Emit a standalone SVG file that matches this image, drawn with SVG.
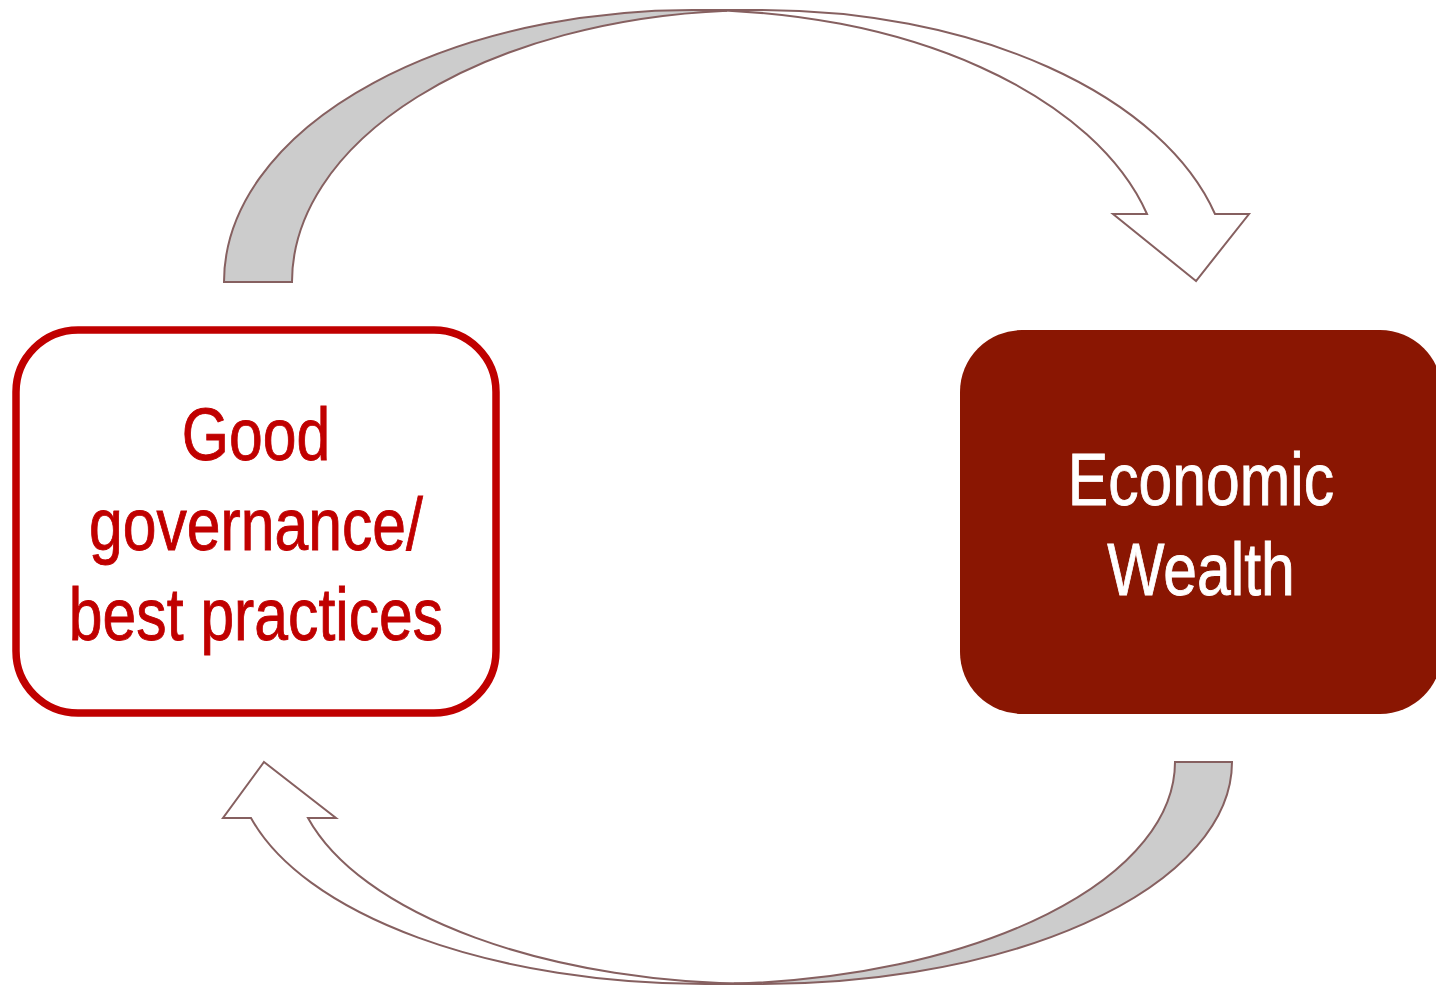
<svg xmlns="http://www.w3.org/2000/svg" width="1436" height="986" viewBox="0 0 1436 986">
  <style>
    .arrow-back { fill: #cccccc; stroke: #866060; stroke-width: 2; stroke-linejoin: miter; }
    .arrow-front { fill: #ffffff; stroke: #866060; stroke-width: 2; stroke-linejoin: miter; }
    .label { font-family: "Liberation Sans", Arial, sans-serif; font-size: 74px; text-anchor: middle; stroke-width: 0.9; }
  </style>
  <rect width="1436" height="986" fill="#ffffff"/>

  <!-- curved connectors -->
  <g id="connectors">
    <!-- top: governance -> wealth -->
    <g id="arrow-top">
      <path class="arrow-back" d="M224,282 A469,272 0 0 1 727,10.7 A469,272 0 0 0 292,282 Z"/>
      <path class="arrow-front" d="M1196,281 L1113,214 L1147,214 A469,272 0 0 0 693,10 L761,10 A469,272 0 0 1 1215,214 L1249,214 Z"/>
    </g>
    <!-- bottom: wealth -> governance -->
    <g id="arrow-bottom">
      <path class="arrow-back" d="M1232,762 A469.7,222 0 0 1 733.8,983.6 A469.7,222 0 0 0 1175,762 Z"/>
      <path class="arrow-front" d="M264,762 L336,818 L308,818 A469.7,222 0 0 0 762.3,984 L705.3,984 A469.7,222 0 0 1 251,818 L223,818 Z"/>
    </g>
  </g>

  <!-- left node -->
  <g id="node-governance">
    <rect x="16" y="330" width="480" height="383" rx="62" ry="62" fill="#ffffff" stroke="#c00000" stroke-width="7.5"/>
    <g transform="translate(256,0) scale(0.82,1)" class="label" fill="#c00000" stroke="#c00000">
      <text x="0" y="460">Good</text>
      <text x="0" y="550">governance/</text>
      <text x="0" y="640">best practices</text>
    </g>
  </g>

  <!-- right node -->
  <g id="node-wealth">
    <rect x="960" y="330" width="482" height="384" rx="62" ry="62" fill="#8a1602"/>
    <g transform="translate(1201,0) scale(0.82,1)" class="label" fill="#ffffff" stroke="#ffffff">
      <text x="0" y="505">Economic</text>
      <text x="0" y="595">Wealth</text>
    </g>
  </g>
</svg>
